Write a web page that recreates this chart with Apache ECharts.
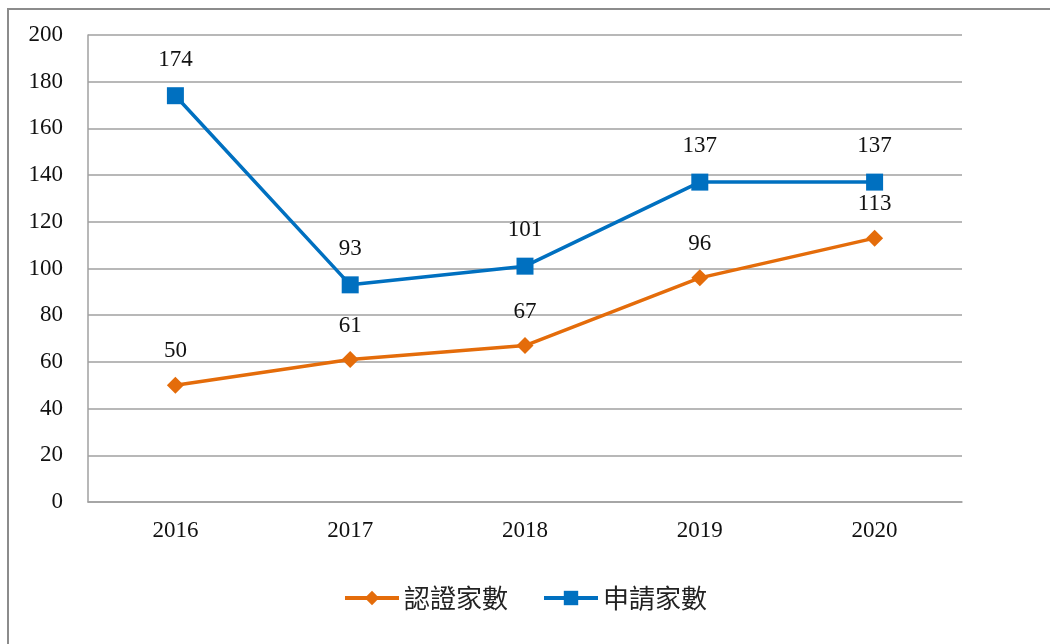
<!DOCTYPE html>
<html lang="zh-Hant">
<head>
	<meta charset="UTF-8">
	<script src="https://cdn.jsdelivr.net/npm/echarts@6/dist/echarts.min.js"></script>
	<title>認證家數與申請家數</title>
	<style>
		html, body { margin: 0; padding: 0; background: #fff; }
	</style>
</head>
<body>
	<div id="main" style="width: 1050px;height:644px;"></div>
	<script>
		// data
		var years = ['2016', '2017', '2018', '2019', '2020'];
		var certified = [50, 61, 67, 96, 113];   // 認證家數
		var applied = [174, 93, 101, 137, 137];   // 申請家數
		var yTicks = { min: 0, max: 200, interval: 20 };

		var serif = '"Liberation Serif", "Times New Roman", serif';
		var cjk = '"Noto Sans CJK TC", "Noto Sans CJK SC", sans-serif';

		var chart = echarts.init(document.getElementById('main'));

		chart.setOption({
			animation: false,
			graphic: [{
				type: 'rect',
				shape: { x: 8, y: 9, width: 1100, height: 700 },
				style: { fill: 'none', stroke: '#8c8c8c', lineWidth: 2 },
				silent: true
			}],
			grid: { left: 88, top: 35, width: 874, height: 467 },
			legend: {
				bottom: 28,
				left: 'center',
				itemWidth: 54,
				itemHeight: 18,
				itemGap: 34,
				lineStyle: { width: 4 },
				textStyle: { fontFamily: cjk, fontSize: 26, color: '#222' },
				data: ['認證家數', '申請家數']
			},
			xAxis: {
				type: 'category',
				data: years,
				boundaryGap: true,
				axisLine: { lineStyle: { color: '#a0a0a0', width: 1.5 } },
				axisTick: { show: false },
				axisLabel: { fontFamily: serif, fontSize: 23, color: '#111', margin: 17 }
			},
			yAxis: {
				type: 'value',
				min: yTicks.min,
				max: yTicks.max,
				interval: yTicks.interval,
				axisLine: { show: true, lineStyle: { color: '#a0a0a0', width: 1.5 } },
				axisTick: { show: false },
				splitLine: { lineStyle: { color: '#a0a0a0', width: 1.5 } },
				axisLabel: { fontFamily: serif, fontSize: 23, color: '#111', margin: 25 }
			},
			series: [
				{
					name: '認證家數',
					type: 'line',
					data: certified,
					symbol: 'diamond',
					symbolSize: 17,
					itemStyle: { color: '#E46C0A' },
					lineStyle: { color: '#E46C0A', width: 3.5 },
					label: {
						show: true, position: 'top', distance: 14,
						fontFamily: serif, fontSize: 23, color: '#111'
					}
				},
				{
					name: '申請家數',
					type: 'line',
					data: applied,
					symbol: 'rect',
					symbolSize: 17,
					itemStyle: { color: '#0070C0' },
					lineStyle: { color: '#0070C0', width: 3.5 },
					label: {
						show: true, position: 'top', distance: 16,
						fontFamily: serif, fontSize: 23, color: '#111'
					}
				}
			]
		});
	</script>
</body>
</html>
